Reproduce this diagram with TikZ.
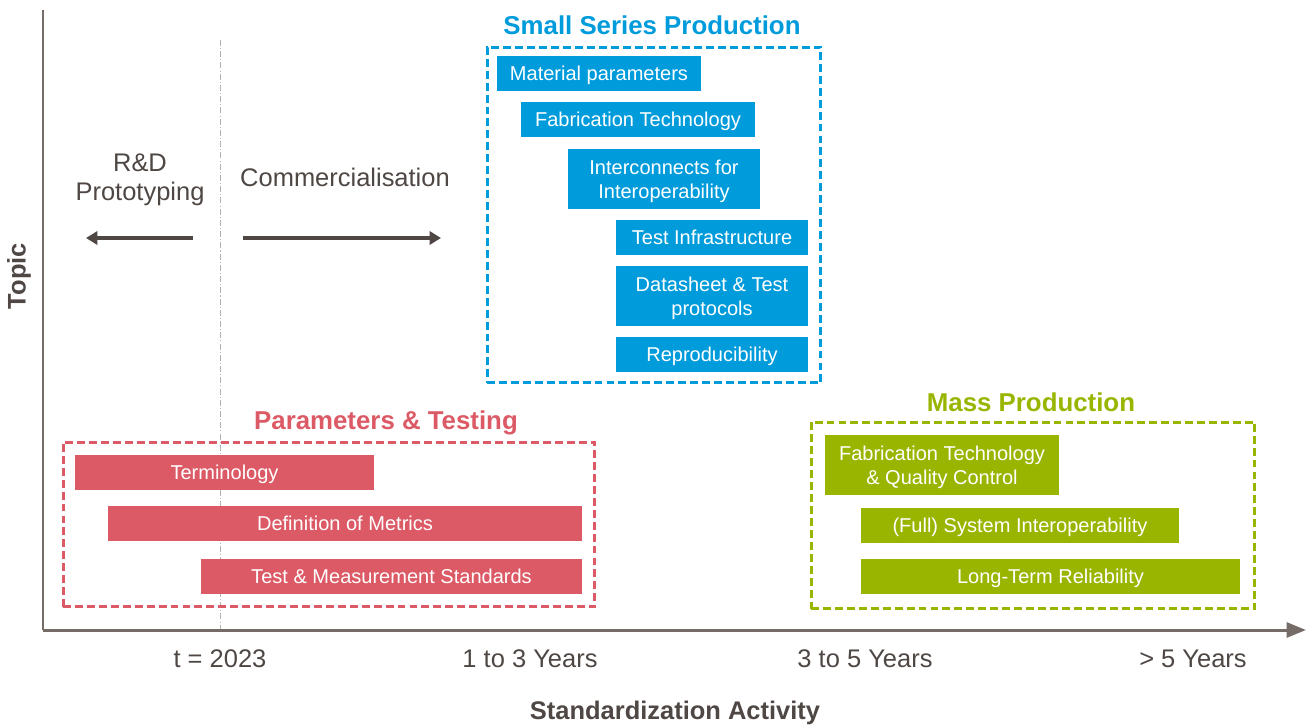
\documentclass[tikz,border=0pt]{standalone}
\usepackage{fontspec}
\setmainfont{Liberation Sans}
\usepackage{xcolor}
\usepackage{tikz}
\usetikzlibrary{arrows.meta}
\definecolor{ssblue}{RGB}{0,155,219}
\definecolor{ptred}{RGB}{220,90,101}
\definecolor{mpgreen}{RGB}{153,181,0}
\definecolor{axisgray}{RGB}{117,108,104}
\definecolor{textgray}{RGB}{78,71,68}
\tikzstyle{bar} = [rectangle, minimum height=0.7cm, inner sep=0pt, text depth=0pt, align=center, text=white, font=\fontsize{11.4}{13.6}\selectfont]
\tikzstyle{bluebar} = [bar, fill=ssblue]
\tikzstyle{redbar} = [bar, fill=ptred]
\tikzstyle{greenbar} = [bar, fill=mpgreen]
\tikzstyle{groupbox} = [rectangle, inner sep=0pt, line width=1.7pt, dash pattern=on 4.5pt off 2.3pt]
\tikzstyle{grouptitle} = [font=\fontsize{14.7}{17}\selectfont\bfseries]
\tikzstyle{phasetext} = [text=textgray, align=center, font=\fontsize{14.5}{16.5}\selectfont]
\tikzstyle{axistitle} = [text=textgray, font=\fontsize{14.5}{16.5}\selectfont\bfseries]
\tikzstyle{axisline} = [line width=1.7pt, draw=axisgray, -{Triangle[length=11pt,width=8.5pt]}]
\tikzstyle{arrow} = [line width=2.1pt, draw=textgray, -{Triangle[length=6.5pt,width=7.5pt]}]
\tikzstyle{nowline} = [line width=0.5pt, draw=gray!60, dash pattern=on 3.4pt off 1.2pt on 0.6pt off 1.2pt]

\begin{document}
\begin{tikzpicture}[x=0.02cm, y=-0.02cm]
    \useasboundingbox (0,0) rectangle (1306,727);
    % Axes
    \coordinate (ytop) at (43,10);
    \coordinate (origin) at (43,630);
    \coordinate (xend) at (1306,630);
    \coordinate (now_top) at (220,40);
    \coordinate (now_bot) at (220,630);
    \draw [nowline] (now_top) -- (now_bot);
    \draw [axisline, -] (ytop) -- (origin);
    \draw [axisline] (origin) -- (xend);
    \node (topic) [axistitle, rotate=90] at (19,276) {Topic};
    \node (activity) [axistitle] at (675,713) {Standardization Activity};
    \node (t2023) [phasetext] at (220,659) {t = 2023};
    \node (y1to3) [phasetext] at (530,659) {1 to 3 Years};
    \node (y3to5) [phasetext] at (865,659) {3 to 5 Years};
    \node (y5plus) [phasetext] at (1193,659) {> 5 Years};
    % Phases
    \node (rnd) [phasetext] at (140,180) {R\&D\\Prototyping};
    \node (comm) [phasetext] at (345,177) {Commercialisation};
    \coordinate (rnd_start) at (193,238);
    \coordinate (rnd_end) at (86,238);
    \coordinate (comm_start) at (243,238);
    \coordinate (comm_end) at (441,238);
    \draw [arrow] (rnd_start) -- (rnd_end);
    \draw [arrow] (comm_start) -- (comm_end);
    % Small series production
    \node (ssp_box) [groupbox, draw=ssblue, minimum width=6.68cm, minimum height=6.72cm] at (654,215) {};
    \node (ssp_title) [grouptitle, text=ssblue] at (652,25) {Small Series Production};
    \node (material) [bluebar, minimum width=4.08cm] at (599,73.5) {Material parameters};
    \node (fabtech) [bluebar, minimum width=4.68cm] at (638,119.5) {Fabrication Technology};
    \node (interconn) [bluebar, minimum width=3.84cm, minimum height=1.2cm] at (664,179) {Interconnects for\\Interoperability};
    \node (testinfra) [bluebar, minimum width=3.84cm] at (712,237.5) {Test Infrastructure};
    \node (datasheet) [bluebar, minimum width=3.84cm, minimum height=1.2cm] at (712,296) {Datasheet \& Test\\protocols};
    \node (repro) [bluebar, minimum width=3.84cm] at (712,354.5) {Reproducibility};
    % Parameters & testing
    \node (pt_box) [groupbox, draw=ptred, minimum width=10.64cm, minimum height=3.3cm] at (329,524.5) {};
    \node (pt_title) [grouptitle, text=ptred] at (386,423) {Parameters \& Testing};
    \node (terms) [redbar, minimum width=5.98cm] at (224.5,472.5) {Terminology};
    \node (metrics) [redbar, minimum width=9.48cm] at (345,523.5) {Definition of Metrics};
    \node (standards) [redbar, minimum width=7.62cm] at (391.5,576.5) {Test \& Measurement Standards};
    % Mass production
    \node (mp_box) [groupbox, draw=mpgreen, minimum width=8.88cm, minimum height=3.74cm] at (1033,515.5) {};
    \node (mp_title) [grouptitle, text=mpgreen] at (1031,402) {Mass Production};
    \node (fabqc) [greenbar, minimum width=4.68cm, minimum height=1.2cm] at (942,465) {Fabrication Technology\\\& Quality Control};
    \node (sysinterop) [greenbar, minimum width=6.36cm] at (1020,525.5) {(Full) System Interoperability};
    \node (reliab) [greenbar, minimum width=7.58cm] at (1050.5,576.5) {Long-Term Reliability};
\end{tikzpicture}
\end{document}
